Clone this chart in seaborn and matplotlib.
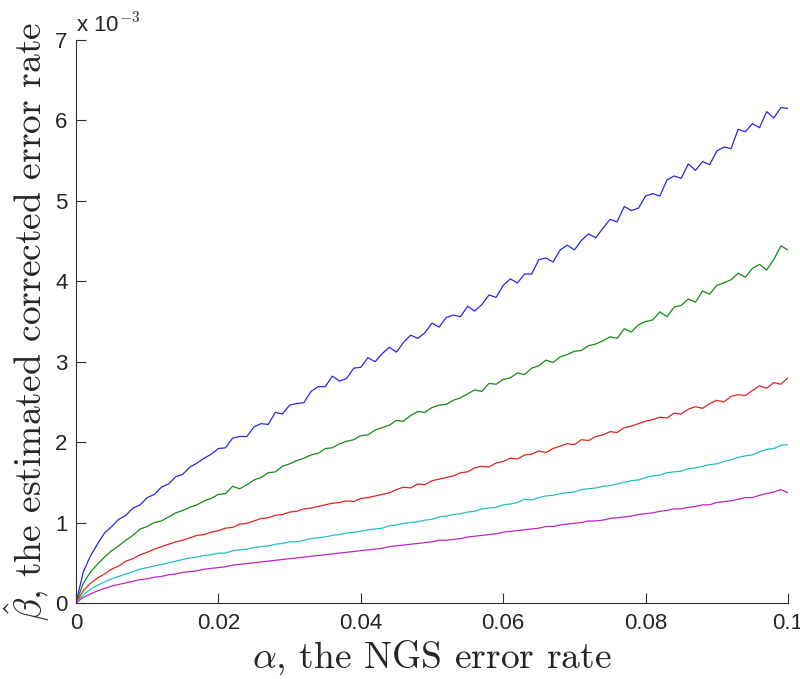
#!/usr/bin/env python3
"""
Estimated corrected error rate (beta hat) versus NGS error rate (alpha),
five curves in MATLAB-like styling.
"""

import numpy as np
import pandas as pd
import matplotlib
matplotlib.use('Agg')
import matplotlib.pyplot as plt
import seaborn as sns

# alpha sampled every 0.001 from 0 to 0.1
alpha = np.arange(101) / 1000.0

# beta hat values in units of 1e-3
beta_blue = [
    0.00, 0.38, 0.58, 0.73, 0.87, 0.95, 1.04, 1.09, 1.18, 1.22,
    1.31, 1.35, 1.44, 1.48, 1.57, 1.60, 1.69, 1.74, 1.80, 1.85,
    1.92, 1.93, 2.05, 2.07, 2.07, 2.19, 2.23, 2.22, 2.37, 2.35,
    2.46, 2.48, 2.49, 2.63, 2.69, 2.69, 2.82, 2.76, 2.79, 2.92,
    2.93, 3.05, 3.00, 3.10, 3.18, 3.12, 3.24, 3.33, 3.29, 3.36,
    3.48, 3.43, 3.55, 3.58, 3.56, 3.69, 3.63, 3.71, 3.83, 3.80,
    3.95, 4.03, 3.98, 4.09, 4.09, 4.27, 4.29, 4.24, 4.39, 4.45,
    4.39, 4.51, 4.59, 4.54, 4.66, 4.77, 4.74, 4.93, 4.88, 4.91,
    5.06, 5.09, 5.06, 5.26, 5.31, 5.28, 5.46, 5.38, 5.49, 5.45,
    5.62, 5.67, 5.65, 5.89, 5.86, 5.96, 5.91, 6.11, 6.03, 6.16,
    6.15,
]
beta_green = [
    0.00, 0.24, 0.38, 0.48, 0.57, 0.65, 0.71, 0.78, 0.84, 0.92,
    0.95, 1.00, 1.02, 1.07, 1.12, 1.15, 1.19, 1.22, 1.27, 1.30,
    1.35, 1.36, 1.45, 1.42, 1.47, 1.53, 1.56, 1.62, 1.63, 1.70,
    1.73, 1.77, 1.80, 1.84, 1.86, 1.92, 1.93, 1.98, 2.01, 2.03,
    2.08, 2.09, 2.15, 2.18, 2.21, 2.27, 2.26, 2.33, 2.38, 2.37,
    2.43, 2.46, 2.47, 2.52, 2.55, 2.60, 2.65, 2.63, 2.73, 2.72,
    2.78, 2.80, 2.86, 2.84, 2.92, 2.95, 3.02, 2.99, 3.06, 3.09,
    3.13, 3.14, 3.20, 3.22, 3.26, 3.31, 3.29, 3.41, 3.37, 3.46,
    3.50, 3.52, 3.62, 3.56, 3.68, 3.70, 3.78, 3.74, 3.88, 3.84,
    3.95, 3.98, 4.02, 4.10, 4.05, 4.16, 4.21, 4.14, 4.27, 4.44,
    4.39,
]
beta_red = [
    0.00, 0.15, 0.24, 0.31, 0.36, 0.42, 0.46, 0.52, 0.55, 0.60,
    0.63, 0.67, 0.70, 0.73, 0.76, 0.78, 0.81, 0.84, 0.85, 0.88,
    0.90, 0.93, 0.94, 0.98, 0.99, 1.02, 1.05, 1.06, 1.09, 1.10,
    1.13, 1.14, 1.17, 1.18, 1.20, 1.22, 1.24, 1.25, 1.27, 1.26,
    1.30, 1.31, 1.33, 1.35, 1.37, 1.41, 1.44, 1.43, 1.48, 1.47,
    1.52, 1.54, 1.56, 1.58, 1.62, 1.63, 1.68, 1.70, 1.69, 1.74,
    1.76, 1.80, 1.79, 1.84, 1.85, 1.89, 1.87, 1.92, 1.95, 1.98,
    1.97, 2.03, 2.02, 2.07, 2.09, 2.13, 2.12, 2.18, 2.20, 2.23,
    2.26, 2.28, 2.31, 2.30, 2.36, 2.35, 2.41, 2.44, 2.42, 2.48,
    2.52, 2.50, 2.57, 2.59, 2.58, 2.64, 2.70, 2.67, 2.74, 2.72,
    2.80,
]
beta_cyan = [
    0.00, 0.10, 0.17, 0.22, 0.26, 0.30, 0.33, 0.36, 0.39, 0.42,
    0.44, 0.46, 0.48, 0.50, 0.52, 0.54, 0.56, 0.57, 0.59, 0.60,
    0.62, 0.62, 0.65, 0.66, 0.67, 0.69, 0.70, 0.71, 0.73, 0.74,
    0.76, 0.76, 0.78, 0.80, 0.81, 0.82, 0.84, 0.85, 0.87, 0.88,
    0.89, 0.91, 0.92, 0.93, 0.96, 0.97, 0.99, 1.00, 1.01, 1.03,
    1.04, 1.07, 1.08, 1.10, 1.11, 1.13, 1.14, 1.17, 1.18, 1.19,
    1.22, 1.23, 1.25, 1.29, 1.28, 1.31, 1.33, 1.34, 1.36, 1.37,
    1.38, 1.41, 1.42, 1.43, 1.45, 1.46, 1.48, 1.50, 1.52, 1.53,
    1.56, 1.58, 1.59, 1.62, 1.63, 1.64, 1.67, 1.68, 1.70, 1.72,
    1.73, 1.76, 1.78, 1.81, 1.83, 1.84, 1.88, 1.91, 1.92, 1.96,
    1.97,
]
beta_magenta = [
    0.00, 0.07, 0.11, 0.15, 0.18, 0.21, 0.23, 0.25, 0.27, 0.29,
    0.30, 0.32, 0.33, 0.35, 0.36, 0.38, 0.39, 0.40, 0.42, 0.43,
    0.44, 0.45, 0.47, 0.48, 0.49, 0.50, 0.51, 0.52, 0.53, 0.54,
    0.55, 0.56, 0.57, 0.58, 0.59, 0.60, 0.61, 0.62, 0.63, 0.64,
    0.65, 0.66, 0.67, 0.68, 0.70, 0.71, 0.72, 0.73, 0.74, 0.75,
    0.76, 0.78, 0.78, 0.79, 0.80, 0.82, 0.83, 0.84, 0.85, 0.86,
    0.88, 0.89, 0.90, 0.91, 0.92, 0.93, 0.95, 0.95, 0.97, 0.98,
    0.99, 1.00, 1.02, 1.02, 1.03, 1.05, 1.06, 1.07, 1.08, 1.10,
    1.11, 1.12, 1.14, 1.15, 1.17, 1.17, 1.19, 1.20, 1.22, 1.22,
    1.25, 1.26, 1.27, 1.29, 1.31, 1.31, 1.34, 1.36, 1.38, 1.41,
    1.37,
]

series_names = ['blue', 'green', 'red', 'cyan', 'magenta']
series_values = [beta_blue, beta_green, beta_red, beta_cyan, beta_magenta]
colors = ['#2828e0', '#168a16', '#e02424', '#24c0c0', '#c024c0']

x_ticks = [0, 0.02, 0.04, 0.06, 0.08, 0.1]
x_tick_labels = ['0', '0.02', '0.04', '0.06', '0.08', '0.1']
y_ticks = [0, 1, 2, 3, 4, 5, 6, 7]

# long-form table for seaborn
rows = []
for name, vals in zip(series_names, series_values):
    for a, b in zip(alpha, vals):
        rows.append({'alpha': a, 'beta': b, 'curve': name})
df = pd.DataFrame(rows)

sns.set_style('ticks')
plt.rcParams['font.family'] = ['Liberation Sans', 'DejaVu Sans']
plt.rcParams['mathtext.fontset'] = 'cm'

fig = plt.figure(figsize=(8, 6.79), dpi=100)
ax = fig.add_axes([0.095, 0.112, 0.89, 0.829])

sns.lineplot(data=df, x='alpha', y='beta', hue='curve',
             palette=dict(zip(series_names, colors)),
             estimator=None, linewidth=0.9, legend=False, ax=ax)

ax.set_xlim(0, 0.1)
ax.set_ylim(0, 7)
ax.set_xticks(x_ticks)
ax.set_xticklabels(x_tick_labels)
ax.set_yticks(y_ticks)
ax.set_yticklabels([str(t) for t in y_ticks])
ax.tick_params(direction='in', length=7, width=0.8, labelsize=16,
               color='#303030')
ax.tick_params(axis='x', pad=7)
ax.tick_params(axis='y', pad=6)

for side in ['top', 'right']:
    ax.spines[side].set_visible(False)
for side in ['left', 'bottom']:
    ax.spines[side].set_linewidth(0.8)
    ax.spines[side].set_color('#303030')

# labels set in Computer Modern like the LaTeX original
ax.set_xlabel(r'$\alpha$, the NGS error rate', fontsize=27,
              family='cmr10', labelpad=3)
ax.set_ylabel(r'$\hat{\beta}$, the estimated corrected error rate',
              fontsize=27, family='cmr10', labelpad=2)

# MATLAB-style exponent label above the y axis
ax.text(0.0, 1.005, r'x 10$^{\mathsf{-3}}$', transform=ax.transAxes,
        fontsize=16, ha='left', va='bottom')

fig.savefig('out.png', dpi=100)
plt.close(fig)
